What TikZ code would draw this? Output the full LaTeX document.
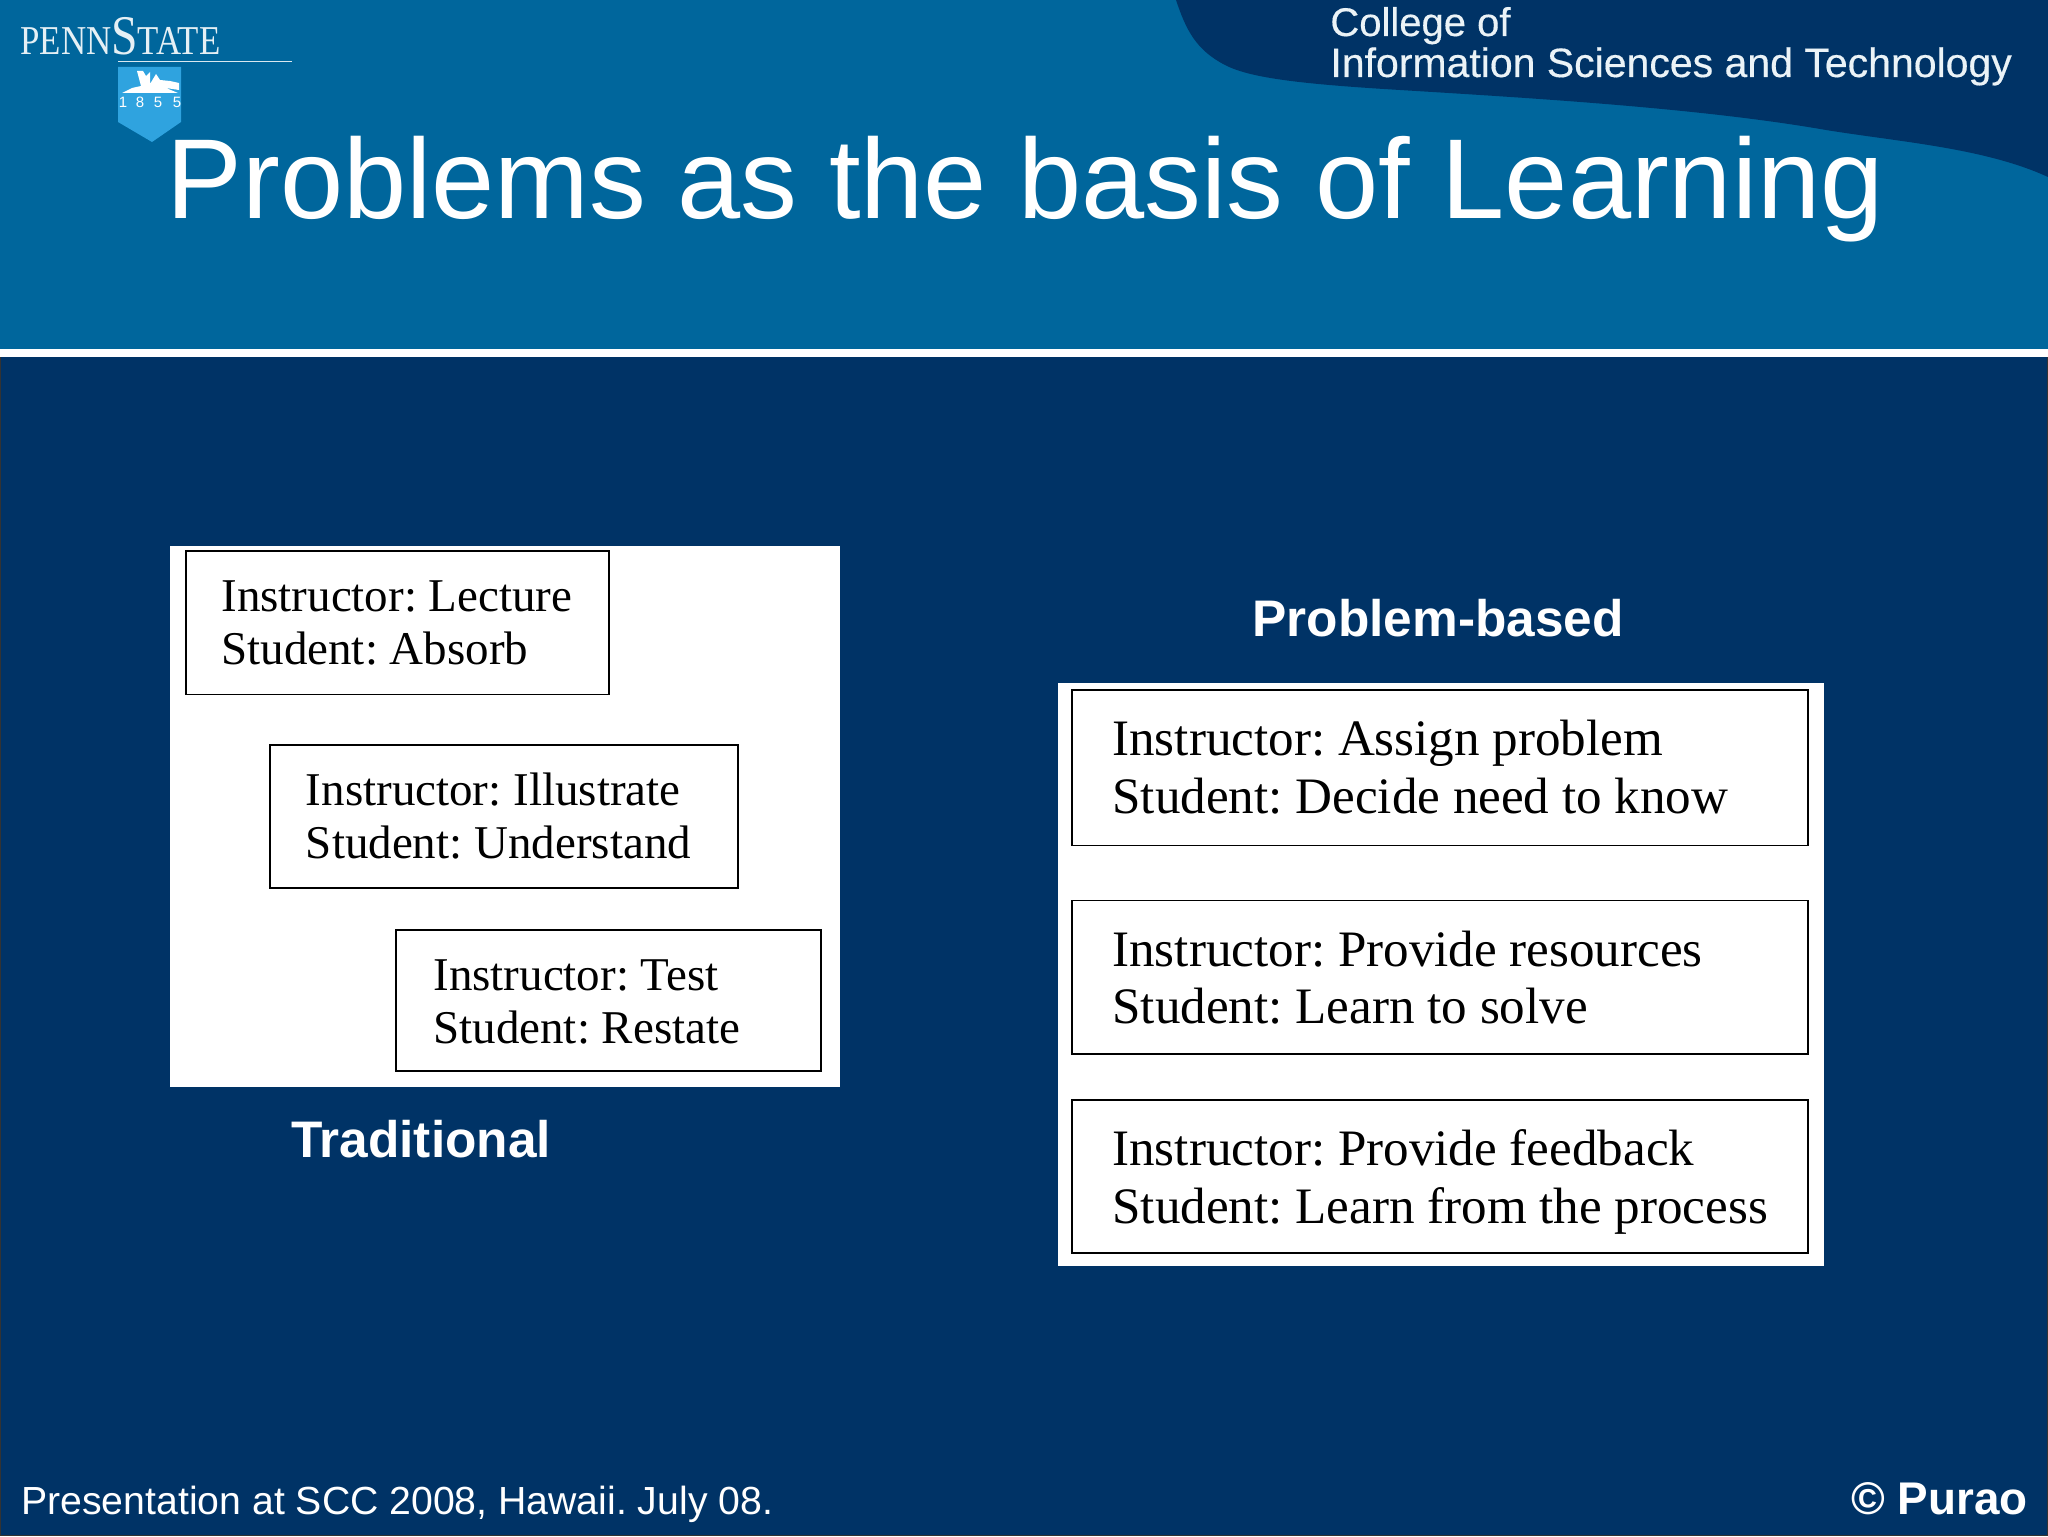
\documentclass[tikz,border=0pt]{standalone}
\usepackage{fontspec}
\setmainfont{Liberation Sans}
\newfontfamily\serifA{Liberation Serif}
\newfontfamily\logofont[FakeStretch=0.85]{Liberation Serif}
\newfontfamily\collfont[FakeBold=0.35]{Liberation Sans}
\usetikzlibrary{calc}
\definecolor{headblue}{HTML}{00669C}
\definecolor{navy}{HTML}{003366}
\definecolor{shield}{HTML}{2FA3DF}
\newcommand{\pxfont}[1]{\fontsize{#1}{#1}\selectfont}
\tikzset{
  x=0.5pt,y=-0.5pt,
  panel/.style={fill=white,draw=none},
  stepbox/.style={draw=black,line width=0.9pt,fill=none},
  boxtext/.style={anchor=base west,inner sep=0pt,text=black},
  label/.style={anchor=base,inner sep=0pt,text=white,font=\pxfont{25.7}\bfseries},
  foot/.style={anchor=base west,inner sep=0pt,text=white},
  yearnum/.style={inner sep=0pt,text=white,font=\pxfont{7.5}},
}
\begin{document}
\frenchspacing
\begin{tikzpicture}
\useasboundingbox (0,0) rectangle (2048,1536);
% background
\fill[headblue] (0,0) rectangle (2048,349);
\fill[navy] (1176,0) .. controls (1186,30) and (1196,50) .. (1225,65)
  .. controls (1250,78) and (1300,84) .. (1400,90)
  .. controls (1530,98) and (1700,108) .. (1826,130)
  .. controls (1900,142) and (1985,148) .. (2048,177) -- (2048,0) -- cycle;
\fill[white] (0,349) rectangle (2048,357);
\fill[navy] (0,357) rectangle (2048,1536);
\draw[black!80,line width=0.6pt] (0.6,357) -- (0.6,1535.4) -- (2047.4,1535.4) -- (2047.4,357);
% logo
\node[anchor=base west,inner sep=0pt,text=white!90!headblue] (logo) at (20,55)
  {\logofont\pxfont{20.5}PENN{\pxfont{28}S}TATE};
\coordinate (ruleL) at (118,61.5);
\coordinate (ruleR) at (292,61.5);
\draw[white!85!headblue,line width=0.7pt] (ruleL) -- (ruleR);
\fill[shield] (118,67) -- (181,67) -- (181,122) -- (152,142) -- (118,122) -- cycle;
\fill[white] (122,93) -- (132,88) -- (141,86) -- (137,71) -- (143,71) -- (146,76) -- (150,72)
  -- (150,84) -- (156,74) -- (160,80) -- (170,81) -- (179,83) -- (179,90) -- (166,88) -- (178,93) -- cycle;
\node[yearnum] (y1) at (123,102) {1};
\node[yearnum] (y2) at (140,102) {8};
\node[yearnum] (y3) at (158,102) {5};
\node[yearnum] (y4) at (177,102) {5};
% college
\node[anchor=base west,inner sep=0pt,text=white!92!headblue] (coll1) at (1330,36) {\collfont\pxfont{20}College of};
\node[anchor=base west,inner sep=0pt,text=white!92!headblue] (coll2) at (1330,77) {\collfont\pxfont{20.5}Information Sciences and Technology};
% title
\node[anchor=base west,inner sep=0pt,text=white] (title) at (166,218) {\pxfont{56.8}Problems as the basis of Learning};
% left panel
\fill[panel] (170,546) rectangle (840,1087);
\draw[stepbox] (186,551) rectangle (609,694.5);
\draw[stepbox] (270,745) rectangle (738,888);
\draw[stepbox] (396,930) rectangle (821,1071);
\begin{scope}[every node/.style={boxtext,font=\serifA\pxfont{23.5}}]
\node (t1a) at (221,611.6) {Instructor: Lecture};
\node (t1b) at (221,664.7) {Student: Absorb};
\node (t2a) at (305.5,805) {Instructor: Illustrate};
\node (t2b) at (305.5,858) {Student: Understand};
\node (t3a) at (433,990) {Instructor: Test};
\node (t3b) at (433,1043) {Student: Restate};
\end{scope}
\node[label] (trad) at (421,1157) {Traditional};
% right panel
\node[label] (pb) at (1438,636) {Problem-based};
\fill[panel] (1058,682.6) rectangle (1824,1265.5);
\draw[stepbox] (1072,690) rectangle (1808,845.4);
\draw[stepbox] (1072,900.5) rectangle (1808,1053.6);
\draw[stepbox] (1072,1100) rectangle (1808,1252.6);
\begin{scope}[every node/.style={boxtext,font=\serifA\pxfont{25.55}}]
\node (r1a) at (1112,755) {Instructor: Assign problem};
\node (r1b) at (1112,813) {Student: Decide need to know};
\node (r2a) at (1112,966.5) {Instructor: Provide resources};
\node (r2b) at (1112,1023.5) {Student: Learn to solve};
\node (r3a) at (1112,1165) {Instructor: Provide feedback};
\node (r3b) at (1112,1223) {Student: Learn from the process};
\end{scope}
% footer
\node[foot,font=\pxfont{19.6}] (ft) at (21,1514) {Presentation at SCC 2008, Hawaii. July 08.};
\node[anchor=base east,inner sep=0pt,text=white,font=\pxfont{22.9}\bfseries] (cr) at (2028,1514) {© Purao};
\end{tikzpicture}
\end{document}
